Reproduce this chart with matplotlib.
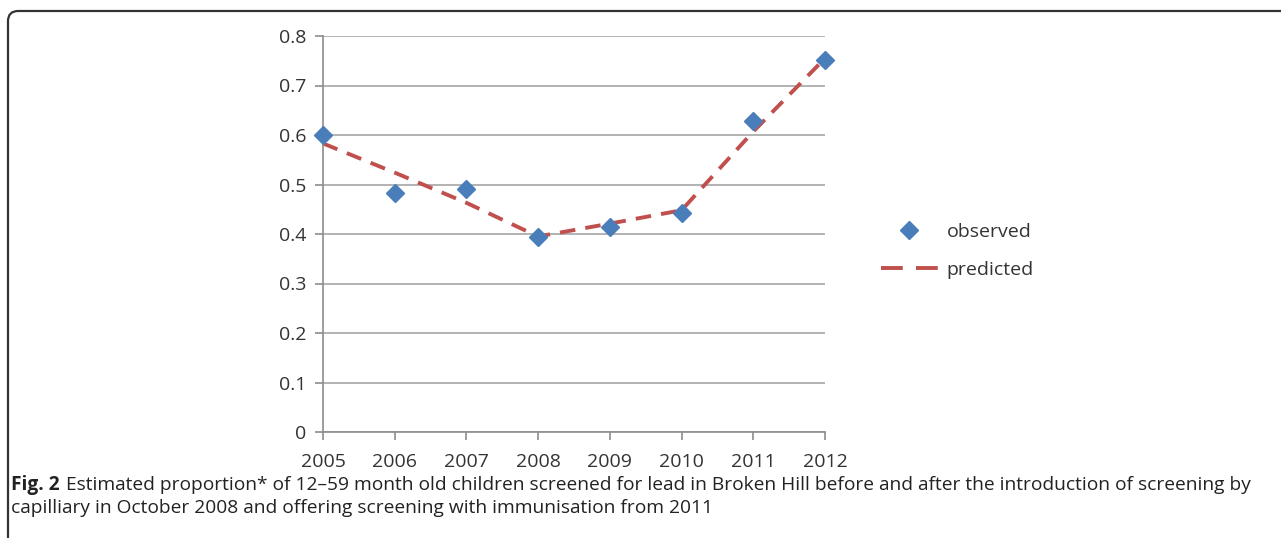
import matplotlib.pyplot as plt
from matplotlib.lines import Line2D
from matplotlib.patches import FancyBboxPatch

years = [2005, 2006, 2007, 2008, 2009, 2010, 2011, 2012]
observed = [0.600, 0.483, 0.490, 0.393, 0.414, 0.443, 0.628, 0.752]
predicted = [0.583, 0.524, 0.463, 0.395, 0.421, 0.448, 0.607, 0.755]
yticks = [0, 0.1, 0.2, 0.3, 0.4, 0.5, 0.6, 0.7, 0.8]
ytick_labels = ["0", "0.1", "0.2", "0.3", "0.4", "0.5", "0.6", "0.7", "0.8"]

blue = "#4a7ebb"
red = "#c0504d"

plt.rcParams["font.family"] = ["Open Sans", "DejaVu Sans"]

W, H = 1281, 538
fig = plt.figure(figsize=(W / 100, H / 100), dpi=100)

# rounded frame around the figure (open to the right and bottom)
frame = FancyBboxPatch((8 / W, -0.2), 1.2, 1 - 11 / H + 0.2,
                       boxstyle="round,pad=0,rounding_size=0.008",
                       transform=fig.transFigure, fill=False,
                       edgecolor="#333333", linewidth=1.6, mutation_aspect=W / H)
fig.patches.append(frame)

ax = fig.add_axes([323 / W, 1 - 432 / H, (825 - 323) / W, (432 - 36) / H])

ax.plot(years, predicted, color=red, linewidth=2.8, dashes=(4, 2.6), zorder=2)
ax.plot(years, observed, linestyle="none", marker="D", markersize=9,
        color=blue, zorder=3, clip_on=False)

ax.set_xlim(2005, 2012)
ax.set_ylim(0, 0.8)
ax.set_yticks(yticks)
ax.set_yticklabels(ytick_labels)
ax.set_xticks(years)
ax.yaxis.grid(True, color="#a6a6a6", linewidth=1.2)
ax.set_axisbelow(True)
for side in ["top", "right"]:
    ax.spines[side].set_visible(False)
for side in ["left", "bottom"]:
    ax.spines[side].set_color("#8c8c8c")
    ax.spines[side].set_linewidth(1.2)
ax.tick_params(axis="both", colors="#8c8c8c", length=6, width=1.2,
               labelsize=14, labelcolor="#333333")
ax.tick_params(axis="y", pad=6)
ax.tick_params(axis="x", pad=9)

# legend proxies: the legend dash pattern is longer than in the plot
obs_handle = Line2D([], [], linestyle="none", marker="D", markersize=9, color=blue)
pred_handle = Line2D([], [], color=red, linewidth=2.8, dashes=(5.6, 3.4))
fig.legend([obs_handle, pred_handle], ["observed", "predicted"], loc="upper left",
           bbox_to_anchor=(863 / W, 1 - 205 / H), frameon=False,
           fontsize=14, handlelength=2.95, labelspacing=1.05, handletextpad=0.45,
           labelcolor="#333333")

fig.text(11 / W, 1 - 485 / H, "Fig. 2", fontsize=13.8, fontweight="bold",
         color="#222222", va="center")
fig.text(66 / W, 1 - 485 / H,
         "Estimated proportion* of 12\u201359 month old children screened for lead in Broken Hill "
         "before and after the introduction of screening by",
         fontsize=13.8, color="#222222", va="center")
fig.text(11 / W, 1 - 508 / H,
         "capilliary in October 2008 and offering screening with immunisation from 2011",
         fontsize=13.8, color="#222222", va="center")

fig.savefig("out.png", dpi=100)
